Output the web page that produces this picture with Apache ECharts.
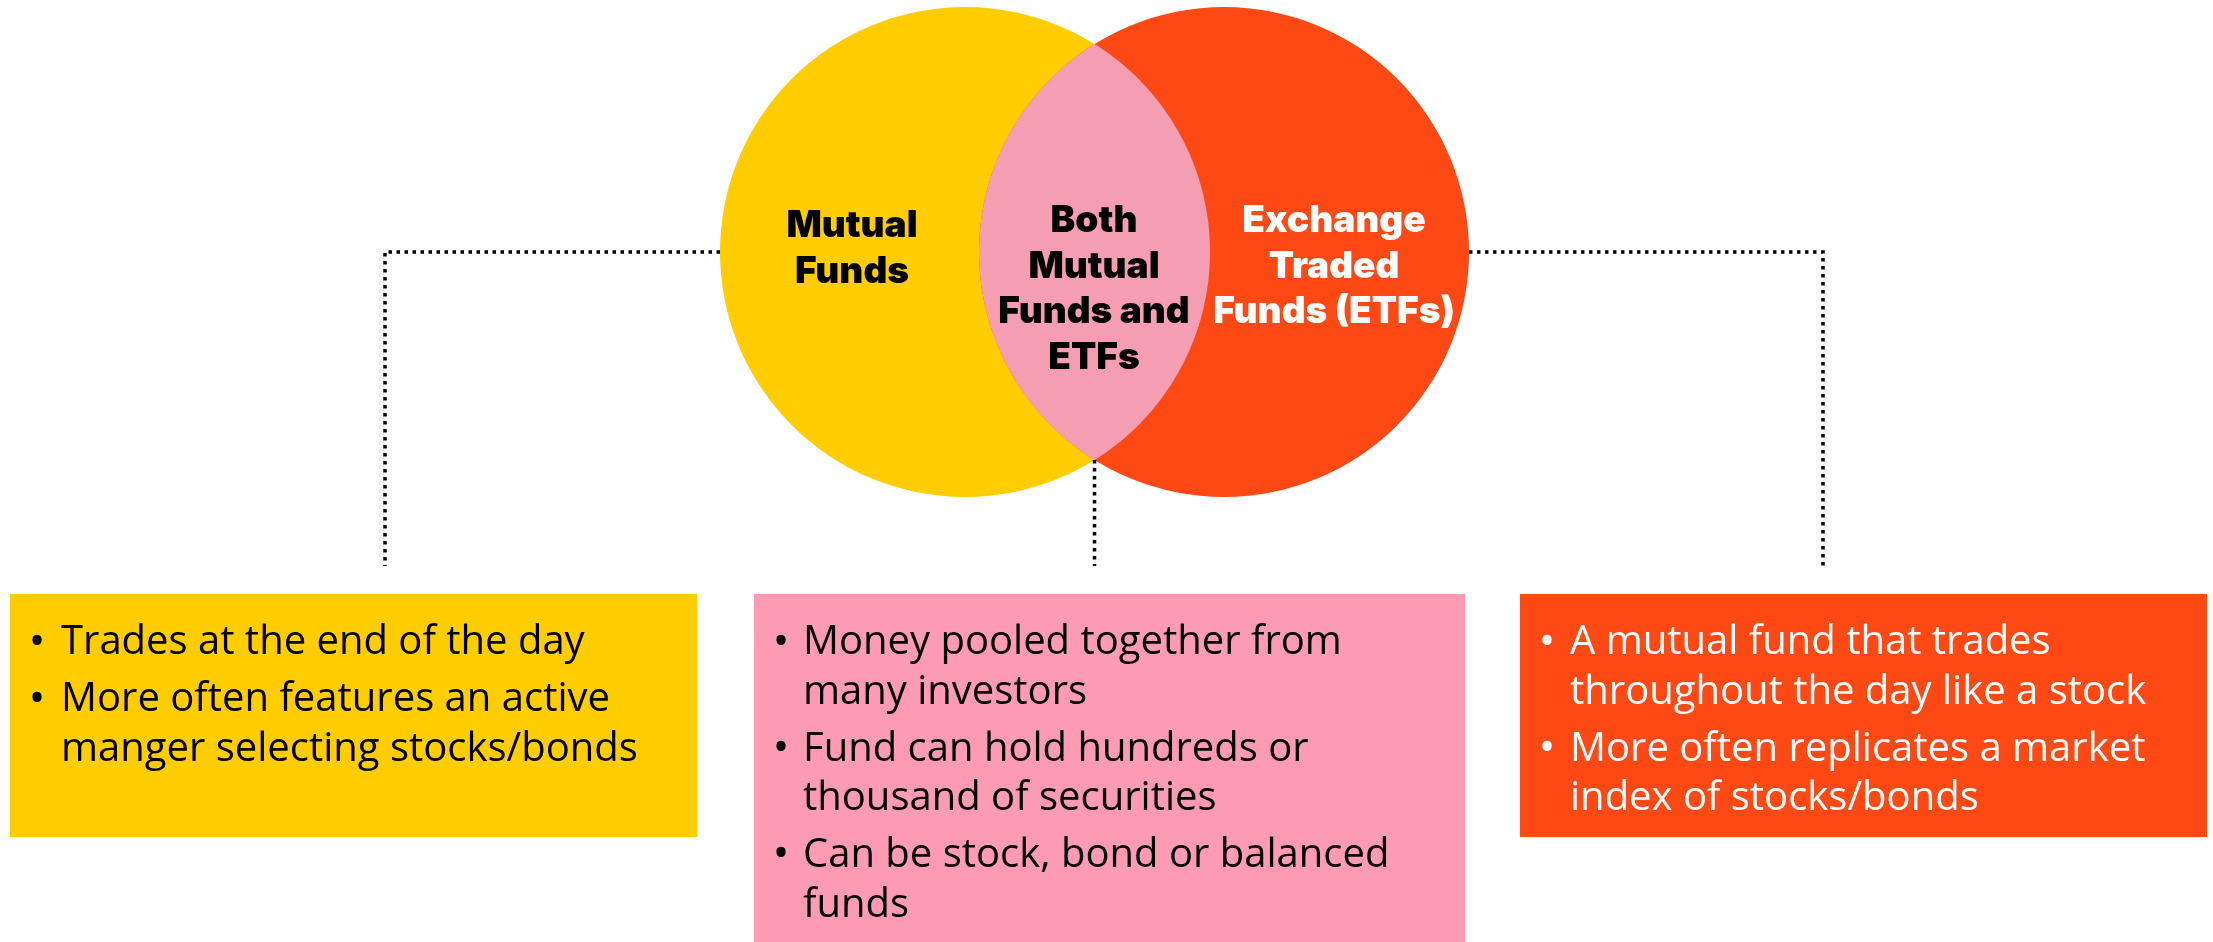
<!DOCTYPE html>
<html>
<head>
<meta charset="utf-8">
<style>
html,body{margin:0;padding:0;background:#fff;}
#chart{width:2213px;height:942px;}
</style>
<script src="https://cdn.jsdelivr.net/npm/echarts@6/dist/echarts.min.js"></script>
</head>
<body>
<div id="chart"></div>
<script>
// ---- data ----
const setNames = ['Mutual Funds', 'Exchange Traded Funds (ETFs)'];
const overlapName = 'Both Mutual Funds and ETFs';
const labelMutual = ['Mutual', 'Funds'];
const labelBoth = ['Both', 'Mutual', 'Funds and', 'ETFs'];
const labelETF = ['Exchange', 'Traded', 'Funds (ETFs)'];
const bulletsMutual = [
  ['Trades at the end of the day'],
  ['More often features an active', 'manger selecting stocks/bonds']
];
const bulletsBoth = [
  ['Money pooled together from', 'many investors'],
  ['Fund can hold hundreds or', 'thousand of securities'],
  ['Can be stock, bond or balanced', 'funds']
];
const bulletsETF = [
  ['A mutual fund that trades', 'throughout the day like a stock'],
  ['More often replicates a market', 'index of stocks/bonds']
];

// ---- layout / style ----
const YEL = '#FFCD00', ORG = '#FF4915', LENS = '#F59EB3', PINK = '#FE9BB4';
const R = 245, CY = 252, C1 = 965, C2 = 1224;
const HEAD_FONT = '900 37px Inter, Roboto, sans-serif';
const BODY_FONT = '400 40px "Open Sans", Roboto, sans-serif';
const BULLET_FONT = '400 44px "Open Sans", Roboto, sans-serif';

const g = [];
g.push({type:'circle', shape:{cx:C1, cy:CY, r:R}, style:{fill:YEL}, z:1});
g.push({type:'circle', shape:{cx:C2, cy:CY, r:R}, style:{fill:ORG}, z:1});
// lens polygon from circle geometry
const d = C2 - C1, a = d / 2, h = Math.sqrt(R*R - a*a);
const ang = Math.atan2(h, a);
const pts = [];
const N = 120;
for (let i = 0; i <= N; i++) {
  const t = Math.PI + ang - (2*ang) * i / N;
  pts.push([C2 + R*Math.cos(t), CY - R*Math.sin(t)]);
}
for (let i = 0; i <= N; i++) {
  const t = -ang + (2*ang) * i / N;
  pts.push([C1 + R*Math.cos(t), CY - R*Math.sin(t)]);
}
g.push({type:'polygon', shape:{points:pts}, style:{fill:LENS}, z:2});

// dotted connectors
const dash = {stroke:'#000', lineWidth:3.5, lineDash:[3.5,4.5], fill:null};
g.push({type:'polyline', shape:{points:[[C1-R,CY],[385,CY],[385,566]]}, style:dash, z:3});
g.push({type:'polyline', shape:{points:[[C2+R,CY],[1823,CY],[1823,566]]}, style:dash, z:3});
g.push({type:'polyline', shape:{points:[[C1+a,CY+h],[C1+a,566]]}, style:dash, z:3});

function headLines(lines, cx, y0, color) {
  lines.forEach((t, i) => {
    g.push({type:'text', z:5, style:{text:t, x:cx, y:y0 + i*45.5, font:HEAD_FONT, fill:color, align:'center', verticalAlign:'middle'}});
  });
}
headLines(labelMutual, 852, 226, '#000');
headLines(labelBoth, 1094, 221, '#000');
headLines(labelETF, 1334, 221, '#fff');

const boxes = [
  {x:10, y:594, w:687, h:243, fill:YEL, color:'#000', items:bulletsMutual, bx:37, tx:61},
  {x:754, y:594, w:711, h:348, fill:PINK, color:'#000', items:bulletsBoth, bx:781, tx:803},
  {x:1520, y:594, w:687, h:243, fill:ORG, color:'#fff', items:bulletsETF, bx:1547, tx:1570}
];
boxes.forEach(b => {
  g.push({type:'rect', shape:{x:b.x, y:b.y, width:b.w, height:b.h}, style:{fill:b.fill}, z:1});
  let y = 643;
  b.items.forEach((lines, bi) => {
    if (bi > 0) y += 57;
    g.push({type:'text', z:5, style:{text:'•', x:b.bx, y:y, font:BULLET_FONT, fill:b.color, align:'center', verticalAlign:'middle'}});
    lines.forEach((t, li) => {
      if (li > 0) y += 49.4;
      g.push({type:'text', z:5, style:{text:t, x:b.tx, y:y, font:BODY_FONT, fill:b.color, align:'left', verticalAlign:'middle'}});
    });
  });
});

const chart = echarts.init(document.getElementById('chart'), null, {renderer:'canvas'});
chart.setOption({
  animation:false,
  backgroundColor:'#fff',
  title:{show:false, text:setNames.join(' vs ') + ' — ' + overlapName},
  graphic:{elements:g}
});
</script>
</body>
</html>
